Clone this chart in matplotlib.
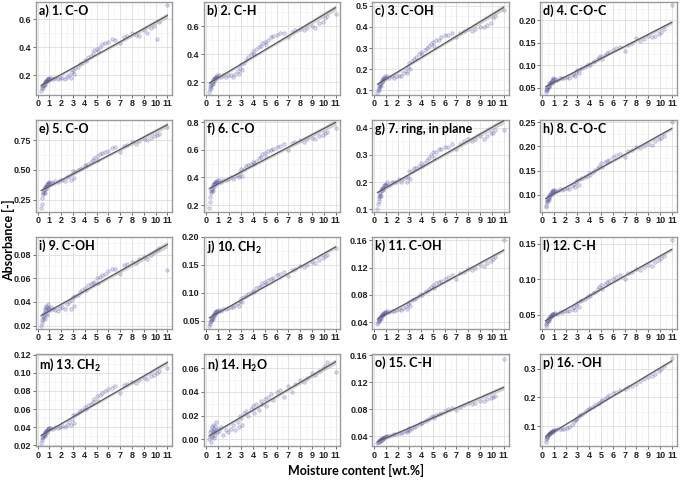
import numpy as np
import matplotlib
matplotlib.use('Agg')
import matplotlib.pyplot as plt
from matplotlib.ticker import MultipleLocator, FormatStrFormatter

# moisture content [wt.%] of the samples (same for every band)
moisture = [0.3, 0.35, 0.4, 0.42, 0.45, 0.5, 0.5, 0.55, 0.6, 0.6, 0.65, 0.7, 0.7, 0.75, 0.8, 0.8, 0.85, 0.9, 0.95, 1.0,
            1.1, 1.3, 1.5, 1.7, 1.9, 2.1, 2.3, 2.5,
            2.7, 2.8, 2.9, 3.0, 3.1, 3.2, 3.4, 3.6, 3.8,
            4.0, 4.1, 4.3, 4.5, 4.7, 4.8, 5.0, 5.1, 5.3, 5.5, 5.7,
            6.0, 6.3, 6.6, 7.0, 7.3, 7.6, 8.0, 8.3, 8.6,
            9.0, 9.3, 9.6, 9.9, 10.1, 10.3, 11.0]

titles = ['a) 1. C-O', 'b) 2. C-H', 'c) 3. C-OH', 'd) 4. C-O-C',
          'e) 5. C-O', 'f) 6. C-O', 'g) 7. ring, in plane', 'h) 8. C-O-C',
          'i) 9. C-OH', 'j) 10. CH$_2$', 'k) 11. C-OH', 'l) 12. C-H',
          'm) 13. CH$_2$', 'n) 14. H$_2$O', 'o) 15. C-H', 'p) 16. -OH']

abs_a = [0.09, 0.11, 0.12, 0.11, 0.13, 0.13, 0.14, 0.14, 0.15, 0.13, 0.15, 0.16, 0.15, 0.16, 0.17, 0.16, 0.17, 0.17, 0.18, 0.17,
         0.18, 0.17, 0.18, 0.17, 0.18, 0.18, 0.17, 0.19,
         0.20, 0.18, 0.22, 0.24, 0.21, 0.25, 0.26, 0.28, 0.29,
         0.31, 0.30, 0.33, 0.34, 0.36, 0.38, 0.39, 0.37, 0.40, 0.42, 0.43,
         0.44, 0.46, 0.45, 0.43, 0.47, 0.48, 0.50, 0.49, 0.48,
         0.52, 0.50, 0.54, 0.55, 0.46, 0.58, 0.70]
abs_b = [0.13, 0.15, 0.17, 0.16, 0.18, 0.19, 0.20, 0.20, 0.21, 0.19, 0.22, 0.22, 0.21, 0.23, 0.23, 0.22, 0.24, 0.24, 0.25, 0.24,
         0.25, 0.24, 0.25, 0.24, 0.25, 0.25, 0.24, 0.26,
         0.28, 0.26, 0.30, 0.33, 0.29, 0.34, 0.36, 0.38, 0.40,
         0.42, 0.40, 0.44, 0.45, 0.46, 0.48, 0.49, 0.47, 0.50, 0.52, 0.53,
         0.54, 0.55, 0.55, 0.52, 0.56, 0.57, 0.58, 0.57, 0.59,
         0.60, 0.59, 0.62, 0.63, 0.66, 0.67, 0.69]
abs_c = [0.09, 0.10, 0.11, 0.10, 0.12, 0.12, 0.13, 0.13, 0.14, 0.12, 0.14, 0.15, 0.14, 0.15, 0.16, 0.15, 0.16, 0.16, 0.17, 0.16,
         0.17, 0.16, 0.17, 0.16, 0.17, 0.17, 0.17, 0.18,
         0.19, 0.18, 0.21, 0.23, 0.20, 0.24, 0.25, 0.26, 0.27,
         0.28, 0.27, 0.29, 0.30, 0.31, 0.32, 0.33, 0.31, 0.34, 0.34, 0.35,
         0.36, 0.36, 0.37, 0.35, 0.37, 0.38, 0.39, 0.38, 0.39,
         0.40, 0.40, 0.41, 0.42, 0.44, 0.45, 0.48]
abs_d = [0.040, 0.045, 0.048, 0.046, 0.050, 0.052, 0.055, 0.054, 0.058, 0.052, 0.060, 0.062, 0.058, 0.064, 0.066, 0.062, 0.068, 0.068, 0.071, 0.070,
         0.070, 0.068, 0.072, 0.071, 0.073, 0.075, 0.072, 0.078,
         0.082, 0.076, 0.086, 0.090, 0.083, 0.092, 0.094, 0.097, 0.100,
         0.104, 0.102, 0.108, 0.110, 0.114, 0.118, 0.122, 0.115, 0.124, 0.128, 0.130,
         0.134, 0.138, 0.140, 0.132, 0.145, 0.150, 0.160, 0.155, 0.158,
         0.165, 0.163, 0.166, 0.170, 0.175, 0.180, 0.235]
abs_e = [0.18, 0.22, 0.27, 0.30, 0.31, 0.32, 0.33, 0.34, 0.35, 0.31, 0.36, 0.37, 0.34, 0.37, 0.38, 0.36, 0.39, 0.38, 0.40, 0.39,
         0.40, 0.39, 0.41, 0.40, 0.42, 0.42, 0.41, 0.44,
         0.45, 0.42, 0.47, 0.49, 0.43, 0.48, 0.50, 0.51, 0.52,
         0.54, 0.53, 0.55, 0.57, 0.58, 0.60, 0.62, 0.58, 0.63, 0.64, 0.65,
         0.66, 0.68, 0.69, 0.65, 0.70, 0.71, 0.73, 0.72, 0.74,
         0.76, 0.75, 0.77, 0.78, 0.79, 0.80, 0.86]
abs_f = [0.18, 0.22, 0.26, 0.29, 0.30, 0.31, 0.32, 0.33, 0.34, 0.30, 0.35, 0.35, 0.33, 0.36, 0.37, 0.35, 0.37, 0.37, 0.38, 0.37,
         0.38, 0.37, 0.38, 0.38, 0.39, 0.40, 0.39, 0.41,
         0.42, 0.40, 0.44, 0.46, 0.41, 0.46, 0.48, 0.49, 0.50,
         0.51, 0.50, 0.52, 0.54, 0.55, 0.57, 0.58, 0.55, 0.59, 0.60, 0.61,
         0.62, 0.63, 0.64, 0.60, 0.65, 0.66, 0.67, 0.66, 0.68,
         0.69, 0.68, 0.70, 0.71, 0.72, 0.73, 0.76]
abs_g = [0.10, 0.12, 0.13, 0.14, 0.15, 0.15, 0.16, 0.16, 0.17, 0.15, 0.17, 0.18, 0.17, 0.18, 0.18, 0.17, 0.19, 0.19, 0.19, 0.19,
         0.20, 0.19, 0.20, 0.20, 0.20, 0.21, 0.20, 0.21,
         0.22, 0.20, 0.22, 0.24, 0.21, 0.24, 0.25, 0.25, 0.26,
         0.27, 0.26, 0.27, 0.28, 0.29, 0.30, 0.31, 0.29, 0.31, 0.32, 0.32,
         0.33, 0.33, 0.34, 0.32, 0.34, 0.35, 0.36, 0.35, 0.36,
         0.37, 0.36, 0.37, 0.38, 0.38, 0.39, 0.39]
abs_h = [0.075, 0.080, 0.085, 0.088, 0.090, 0.092, 0.095, 0.094, 0.098, 0.090, 0.100, 0.102, 0.098, 0.104, 0.106, 0.102, 0.108, 0.108, 0.110, 0.109,
         0.110, 0.109, 0.112, 0.111, 0.113, 0.115, 0.113, 0.118,
         0.122, 0.116, 0.126, 0.130, 0.120, 0.132, 0.135, 0.137, 0.140,
         0.145, 0.142, 0.148, 0.152, 0.156, 0.160, 0.165, 0.158, 0.168, 0.170, 0.172,
         0.178, 0.182, 0.185, 0.178, 0.190, 0.192, 0.198, 0.196, 0.200,
         0.205, 0.203, 0.210, 0.215, 0.218, 0.222, 0.250]
abs_i = [0.020, 0.022, 0.025, 0.028, 0.026, 0.030, 0.027, 0.031, 0.033, 0.026, 0.035, 0.030, 0.037, 0.032, 0.036, 0.029, 0.034, 0.038, 0.033, 0.035,
         0.036, 0.034, 0.033, 0.032, 0.035, 0.036, 0.034, 0.038,
         0.040, 0.034, 0.042, 0.044, 0.037, 0.045, 0.046, 0.048, 0.050,
         0.052, 0.050, 0.054, 0.055, 0.056, 0.057, 0.060, 0.056, 0.061, 0.063, 0.064,
         0.066, 0.068, 0.068, 0.064, 0.071, 0.072, 0.074, 0.073, 0.076,
         0.078, 0.076, 0.080, 0.082, 0.084, 0.086, 0.067]
abs_j = [0.040, 0.044, 0.048, 0.050, 0.052, 0.054, 0.055, 0.056, 0.058, 0.053, 0.060, 0.062, 0.059, 0.063, 0.065, 0.062, 0.066, 0.067, 0.068, 0.068,
         0.069, 0.068, 0.071, 0.071, 0.073, 0.075, 0.074, 0.078,
         0.082, 0.077, 0.086, 0.090, 0.083, 0.092, 0.094, 0.097, 0.100,
         0.104, 0.102, 0.108, 0.110, 0.113, 0.117, 0.120, 0.115, 0.122, 0.125, 0.127,
         0.131, 0.134, 0.137, 0.130, 0.140, 0.143, 0.148, 0.146, 0.150,
         0.155, 0.153, 0.158, 0.162, 0.165, 0.168, 0.180]
abs_k = [0.038, 0.040, 0.042, 0.044, 0.045, 0.046, 0.047, 0.048, 0.049, 0.045, 0.050, 0.051, 0.049, 0.052, 0.053, 0.051, 0.054, 0.054, 0.055, 0.055,
         0.056, 0.055, 0.057, 0.057, 0.058, 0.059, 0.058, 0.061,
         0.064, 0.060, 0.067, 0.070, 0.064, 0.072, 0.074, 0.076, 0.078,
         0.081, 0.080, 0.084, 0.086, 0.089, 0.092, 0.095, 0.090, 0.097, 0.099, 0.101,
         0.104, 0.107, 0.109, 0.103, 0.112, 0.114, 0.118, 0.116, 0.120,
         0.124, 0.122, 0.127, 0.130, 0.133, 0.136, 0.160]
abs_l = [0.035, 0.037, 0.039, 0.041, 0.042, 0.043, 0.044, 0.045, 0.046, 0.042, 0.047, 0.048, 0.046, 0.049, 0.050, 0.048, 0.051, 0.051, 0.052, 0.052,
         0.053, 0.052, 0.054, 0.054, 0.055, 0.056, 0.055, 0.058,
         0.061, 0.057, 0.064, 0.067, 0.061, 0.069, 0.071, 0.073, 0.075,
         0.078, 0.077, 0.081, 0.083, 0.086, 0.089, 0.092, 0.087, 0.094, 0.096, 0.098,
         0.101, 0.104, 0.106, 0.100, 0.109, 0.111, 0.115, 0.113, 0.117,
         0.121, 0.119, 0.124, 0.127, 0.130, 0.133, 0.155]
abs_m = [0.023, 0.026, 0.028, 0.029, 0.030, 0.031, 0.032, 0.033, 0.034, 0.030, 0.035, 0.036, 0.034, 0.036, 0.037, 0.035, 0.038, 0.038, 0.039, 0.039,
         0.039, 0.038, 0.040, 0.039, 0.040, 0.041, 0.040, 0.043,
         0.046, 0.042, 0.049, 0.053, 0.045, 0.054, 0.056, 0.058, 0.059,
         0.062, 0.060, 0.064, 0.066, 0.068, 0.071, 0.074, 0.069, 0.076, 0.078, 0.080,
         0.082, 0.083, 0.085, 0.078, 0.087, 0.088, 0.090, 0.089, 0.092,
         0.094, 0.093, 0.096, 0.098, 0.100, 0.102, 0.105]
abs_n = [0.000, 0.003, 0.006, -0.002, 0.008, 0.004, 0.010, 0.002, 0.007, 0.012, 0.005, 0.009, 0.001, 0.006, 0.011, 0.004, 0.008, 0.015, 0.006, 0.009,
         0.007, 0.010, 0.004, 0.008, 0.006, 0.009, 0.012, 0.008,
         0.015, 0.010, 0.020, 0.018, 0.012, 0.022, 0.024, 0.020, 0.026,
         0.028, 0.022, 0.030, 0.025, 0.032, 0.030, 0.034, 0.028, 0.036, 0.038, 0.033,
         0.040, 0.042, 0.036, 0.045, 0.040, 0.047, 0.050, 0.048, 0.052,
         0.056, 0.054, 0.058, 0.060, 0.062, 0.065, 0.057]
abs_o = [0.030, 0.031, 0.032, 0.033, 0.033, 0.034, 0.035, 0.034, 0.036, 0.033, 0.036, 0.037, 0.035, 0.037, 0.038, 0.036, 0.038, 0.039, 0.039, 0.040,
         0.040, 0.041, 0.042, 0.043, 0.044, 0.045, 0.045, 0.047,
         0.048, 0.047, 0.050, 0.052, 0.049, 0.053, 0.054, 0.056, 0.058,
         0.060, 0.059, 0.062, 0.064, 0.066, 0.068, 0.070, 0.067, 0.071, 0.073, 0.075,
         0.077, 0.080, 0.082, 0.079, 0.084, 0.086, 0.089, 0.088, 0.090,
         0.092, 0.093, 0.095, 0.097, 0.098, 0.100, 0.155]
abs_p = [0.045, 0.055, 0.060, 0.062, 0.065, 0.068, 0.070, 0.072, 0.074, 0.072, 0.076, 0.078, 0.077, 0.080, 0.081, 0.080, 0.083, 0.084, 0.085, 0.086,
         0.088, 0.090, 0.091, 0.090, 0.089, 0.093, 0.097, 0.105,
         0.115, 0.120, 0.125, 0.130, 0.134, 0.138, 0.143, 0.150, 0.155,
         0.160, 0.162, 0.168, 0.172, 0.178, 0.182, 0.188, 0.190, 0.195, 0.202, 0.208,
         0.215, 0.220, 0.225, 0.230, 0.235, 0.240, 0.248, 0.255, 0.262,
         0.270, 0.275, 0.282, 0.290, 0.300, 0.310, 0.335]

absorbance = [abs_a, abs_b, abs_c, abs_d, abs_e, abs_f, abs_g, abs_h,
              abs_i, abs_j, abs_k, abs_l, abs_m, abs_n, abs_o, abs_p]

# y axis: limits, tick step, label format
y_limits = [(0.06, 0.72), (0.11, 0.77), (0.08, 0.515), (0.035, 0.24),
            (0.15, 0.92), (0.15, 0.82), (0.09, 0.43), (0.065, 0.255),
            (0.017, 0.095), (0.035, 0.20), (0.03, 0.165), (0.03, 0.16),
            (0.019, 0.1205), (-0.006, 0.072), (0.025, 0.162), (0.03, 0.35)]
y_steps = [0.2, 0.2, 0.1, 0.05, 0.25, 0.2, 0.1, 0.05,
           0.02, 0.05, 0.04, 0.05, 0.02, 0.02, 0.04, 0.1]
y_formats = ['%.1f', '%.1f', '%.1f', '%.2f', '%.2f', '%.1f', '%.1f', '%.2f',
             '%.2f', '%.2f', '%.2f', '%.2f', '%.2f', '%.2f', '%.2f', '%.1f']

plt.rcParams['font.family'] = ['Liberation Sans', 'DejaVu Sans']
plt.rcParams['mathtext.fontset'] = 'custom'
plt.rcParams['mathtext.rm'] = 'Lato:bold'
plt.rcParams['mathtext.bf'] = 'Lato:bold'
plt.rcParams['mathtext.default'] = 'bf'

fig, axes = plt.subplots(4, 4, figsize=(6.85, 4.8), dpi=100)
fig.subplots_adjust(left=0.052, right=0.988, top=0.995, bottom=0.07, wspace=0.23, hspace=0.27)

x = np.array(moisture)
for k, ax in enumerate(axes.flat):
    y = np.array(absorbance[k])
    ax.scatter(x, y, s=6, facecolor=(0.40, 0.40, 0.75, 0.20), edgecolor=(0.30, 0.30, 0.66, 0.40),
               linewidth=0.5, zorder=3)

    # linear fit with 95% confidence band
    b, a = np.polyfit(x, y, 1)
    xs = np.linspace(x.min(), x.max(), 100)
    n = len(x)
    resid = y - (a + b * x)
    s = np.sqrt(np.sum(resid ** 2) / (n - 2))
    se = s * np.sqrt(1 / n + (xs - x.mean()) ** 2 / np.sum((x - x.mean()) ** 2))
    ys = a + b * xs
    ax.fill_between(xs, ys - 1.97 * se, ys + 1.97 * se, color='#b5b5b5', alpha=0.6, lw=0, zorder=4)
    ax.plot(xs, ys, color='#5a5a5a', lw=0.9, zorder=5)

    ax.set_xlim(-0.17, 11.42)
    ax.set_ylim(*y_limits[k])
    ax.xaxis.set_major_locator(MultipleLocator(1))
    ax.xaxis.set_minor_locator(MultipleLocator(0.5))
    ax.yaxis.set_major_locator(MultipleLocator(y_steps[k]))
    ax.yaxis.set_minor_locator(MultipleLocator(y_steps[k] / 2))
    ax.yaxis.set_major_formatter(FormatStrFormatter(y_formats[k]))
    ax.grid(which='major', color='#dedede', lw=0.6, zorder=0)
    ax.grid(which='minor', color='#efefef', lw=0.4, zorder=0)
    ax.set_axisbelow(True)
    for sp in ax.spines.values():
        sp.set_color('#9a9a9a')
        sp.set_linewidth(1.0)
    ax.tick_params(which='major', length=2, width=0.6, color='#555555', pad=1, labelsize=6.5)
    ax.tick_params(which='minor', length=0)
    for lab in ax.get_xticklabels() + ax.get_yticklabels():
        lab.set_fontweight('bold')
        lab.set_color('#222222')

    ax.text(0.025, 0.975, titles[k], transform=ax.transAxes, ha='left', va='top',
            fontsize=9, fontweight='bold', family='Lato', zorder=6)

fig.text(0.012, 0.5, 'Absorbance [-]', rotation=90, ha='center', va='center',
         fontsize=9, fontweight='bold', family='Lato')
fig.text(0.52, 0.02, 'Moisture content [wt.%]', ha='center', va='center',
         fontsize=9, fontweight='bold', family='Lato')

fig.savefig('out.png', dpi=100)
